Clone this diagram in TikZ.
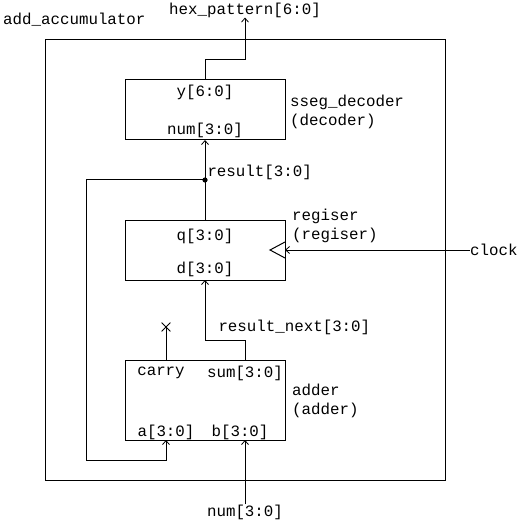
\documentclass[tikz,border=0pt]{standalone}
\usepackage{fontspec}
\setmonofont{Liberation Mono}
\usepackage{tikz}
\usetikzlibrary{arrows.meta, positioning, shapes.misc}
\tikzset{
  % module boxes
  module/.style={rectangle, draw, line width=1pt, inner sep=0pt, outer sep=0pt,
                 minimum width=160pt},
  % port and wire labels
  port/.style={inner sep=0pt, font=\ttfamily\fontsize{15.8}{19}\selectfont},
  modname/.style={port, align=left, anchor=west},
  % wires
  wire/.style={draw, line width=1pt},
  warrow/.style={wire, -{Straight Barb[length=4pt,width=7pt,line width=0.8pt]}},
}

\begin{document}
\begin{tikzpicture}[x=1pt, y=-1pt]
\useasboundingbox (0,0) rectangle (526,521);

% ── Top level ────────────────────────────────────────────────────────────────
\node[port, anchor=west] (topname) at (3,20) {add\_accumulator};
\draw[line width=1pt] (45,40) rectangle (445,480);

% ── Modules ──────────────────────────────────────────────────────────────────
\node[module, minimum height=60pt] (dec) at (205,110) {};
\node[module, minimum height=60pt] (reg) at (205,250) {};
\node[module, minimum height=80pt] (add) at (205,400) {};

% module names
\node[modname] (decname) at (290,111.5) {sseg\_decoder\\(decoder)};
\node[modname] (regname) at (292,226)   {regiser\\(regiser)};
\node[modname] (addname) at (292,400.5) {adder\\(adder)};

% ── Ports ────────────────────────────────────────────────────────────────────
\node[port] (decy)   at (205,92)  {y[6:0]};
\node[port] (decnum) at (205,130) {num[3:0]};
\node[port] (regq)   at (205,236) {q[3:0]};
\node[port] (regd)   at (205,269) {d[3:0]};
\node[port] (addc)   at (161,373) {carry};
\node[port] (adds)   at (245,373) {sum[3:0]};
\node[port] (adda)   at (166,432) {a[3:0]};
\node[port] (addb)   at (240,432) {b[3:0]};

% clock input triangle
\draw[line width=1pt] (285,242) -- (270,250) -- (285,258);

% ── External signals ─────────────────────────────────────────────────────────
\node[port] (hex)   at (245,10)  {hex\_pattern[6:0]};
\node[port, anchor=west] (clock) at (470,250) {clock};
\node[port] (num)   at (245,512) {num[3:0]};
\node[draw, cross out, line width=0.8pt, minimum size=8pt, inner sep=0pt]
  (carryend) at (166,327) {};

% ── Wires ────────────────────────────────────────────────────────────────────
\coordinate (split) at (205,180);
\coordinate (addain) at (166,440);
\coordinate (addbin) at (245,440);

% decoder -> hex_pattern
\draw[warrow] (dec.north) -- (205,60) -- (245,60) -- (hex.south);

% register -> decoder, with feedback tap
\draw[warrow] (reg.north) -- node[port, right=2pt, pos=0.6]{result[3:0]} (dec.south);
\fill (split) circle (2.6pt);
\draw[warrow] (split) -- (86,180) -- (86,460) -- (166,460) -- (addain);

% adder sum -> register
\draw[warrow] (245,360) -- (245,340) -- (205,340)
  node[port, anchor=west] at (218,327) {result\_next[3:0]} -- (reg.south);

% carry left open
\draw[wire] (166,360) -- (carryend.center);

% num -> adder b, clock -> register
\draw[warrow] (num.north) -- (addbin);
\draw[warrow] (clock.west) -- (reg.east);

\end{tikzpicture}
\end{document}
